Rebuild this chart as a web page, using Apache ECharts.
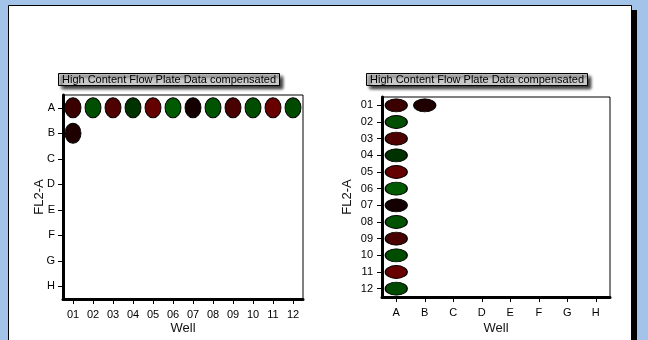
<!DOCTYPE html>
<html>
<head>
<meta charset="utf-8">
<script src="https://cdn.jsdelivr.net/npm/echarts@6/dist/echarts.min.js"></script>
<style>
  html, body { margin: 0; padding: 0; background: #a3c4e8; }
  #chart { width: 648px; height: 340px; }
</style>
</head>
<body>
<div id="chart"></div>
<script>
// plate layout
const plateRows = ['A', 'B', 'C', 'D', 'E', 'F', 'G', 'H'];
const plateCols = ['01', '02', '03', '04', '05', '06', '07', '08', '09', '10', '11', '12'];

// measured wells (row, column) and their signal: >0 red, <0 green
const wellRow = ['A', 'A', 'A', 'A', 'A', 'A', 'A', 'A', 'A', 'A', 'A', 'A', 'B'];
const wellCol = ['01', '02', '03', '04', '05', '06', '07', '08', '09', '10', '11', '12', '01'];
const wellSignal = [58, -79, 79, -50, 100, -90, 20, -83, 72, -77, 104, -74, 30];

const titleText = 'High Content Flow Plate Data compensated';

const font = 'Liberation Sans, Arial, sans-serif';

const byCol = wellSignal.map((v, i) => [wellCol[i], wellRow[i], v]);
const byRow = wellSignal.map((v, i) => [wellRow[i], wellCol[i], v]);

const chart = echarts.init(document.getElementById('chart'));

function titleBox(left) {
  return {
    text: titleText,
    left,
    top: 73,
    backgroundColor: '#c8c8c8',
    borderColor: '#000',
    borderWidth: 1,
    padding: [1, 4, 0, 4],
    shadowColor: 'rgba(0,0,0,0.8)',
    shadowBlur: 3,
    shadowOffsetX: 3,
    shadowOffsetY: 3,
    textStyle: { fontFamily: font, fontSize: 11, fontWeight: 'normal', color: '#000', lineHeight: 12 },
  };
}

function catAxis(gridIndex, data, extra) {
  return Object.assign({
    type: 'category',
    gridIndex,
    data,
    boundaryGap: true,
    axisLine: { show: true, lineStyle: { color: '#000', width: 3 } },
    axisTick: { show: true, alignWithLabel: true, length: 5, lineStyle: { color: '#000', width: 1 } },
    axisLabel: { fontFamily: font, fontSize: 11, color: '#000', margin: 9 },
    splitLine: { show: false },
    nameLocation: 'middle',
    nameMoveOverlap: false,
    nameTextStyle: { fontFamily: font, fontSize: 13, color: '#111' },
  }, extra);
}

const xLabel = { fontFamily: font, fontSize: 11, color: '#000', margin: 10 };

const option = {
  animation: false,
  backgroundColor: '#a3c4e8',
  graphic: [
    {
      type: 'rect',
      z: -11,
      shape: { x: 13, y: 10, width: 624, height: 345 },
      style: { fill: '#000' },
    },
    {
      type: 'rect',
      z: -10,
      shape: { x: 8.5, y: 5.5, width: 623, height: 345 },
      style: { fill: '#fff', stroke: '#000', lineWidth: 1 },
    },
  ],
  title: [titleBox(58), titleBox(366)],
  grid: [
    { left: 63, top: 95, width: 240, height: 204, show: true, borderColor: '#000', borderWidth: 1, backgroundColor: '#fff' },
    { left: 382, top: 97, width: 228, height: 201, show: true, borderColor: '#000', borderWidth: 1, backgroundColor: '#fff' },
  ],
  xAxis: [
    catAxis(0, plateCols, { name: 'Well', nameGap: 23, axisLabel: xLabel }),
    catAxis(1, plateRows, { name: 'Well', nameGap: 25, axisLabel: xLabel }),
  ],
  yAxis: [
    catAxis(0, plateRows, {
      inverse: true, name: 'FL2-A', nameGap: 17,
      axisLabel: { fontFamily: font, fontSize: 11, color: '#000', margin: 8 },
    }),
    catAxis(1, plateCols, { inverse: true, name: 'FL2-A', nameGap: 28 }),
  ],
  visualMap: {
    show: false,
    type: 'continuous',
    dimension: 2,
    seriesIndex: [0, 1],
    min: -255,
    max: 255,
    inRange: { color: ['#00ff00', '#000000', '#ff0000'] },
  },
  series: [
    {
      type: 'scatter',
      xAxisIndex: 0,
      yAxisIndex: 0,
      data: byCol,
      symbol: 'circle',
      symbolSize: [16, 20],
      itemStyle: { borderColor: '#000', borderWidth: 1, opacity: 1 },
    },
    {
      type: 'scatter',
      xAxisIndex: 1,
      yAxisIndex: 1,
      data: byRow,
      symbol: 'circle',
      symbolSize: [22, 13],
      itemStyle: { borderColor: '#000', borderWidth: 1, opacity: 1 },
    },
  ],
};

chart.setOption(option);
</script>
</body>
</html>
